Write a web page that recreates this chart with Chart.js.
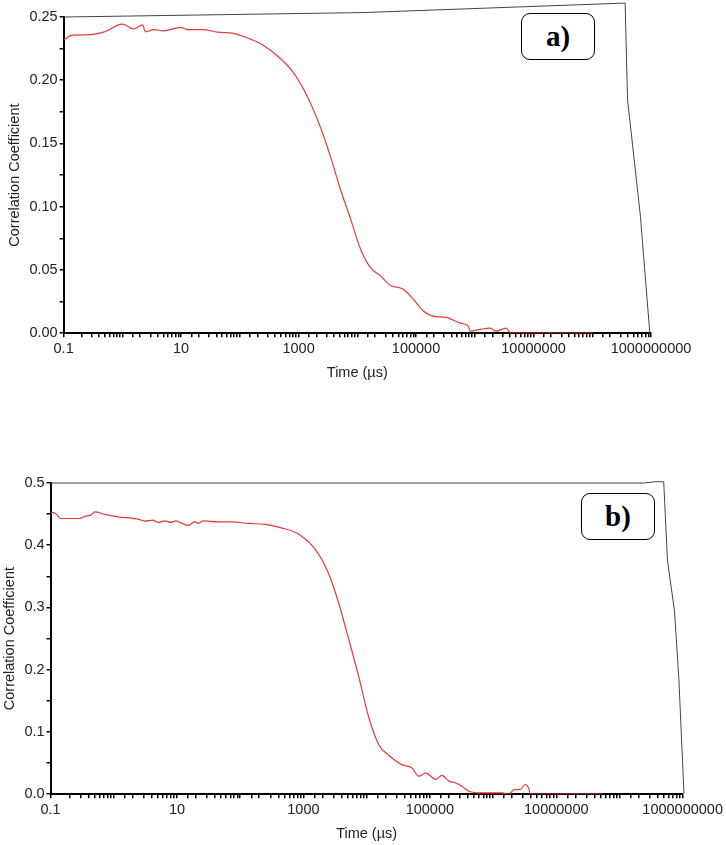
<!DOCTYPE html>
<html>
<head>
<meta charset="utf-8">
<script src="https://cdn.jsdelivr.net/npm/chart.js@4"></script>
<style>
body { margin: 0; background: #fff; width: 726px; height: 845px; position: relative; overflow: hidden; }
.wrap { position: absolute; left: 0; width: 726px; }
#wa { top: 0; height: 388px; }
#wb { top: 468px; height: 377px; }
.tag { position: absolute; width: 74px; height: 47px; box-sizing: border-box; border: 1.5px solid #000; border-radius: 9px;
       background: #fff; font: bold 29px "Liberation Serif", serif; text-align: center; line-height: 44px; color: #000; }
</style>
</head>
<body>
<div class="wrap" id="wa"><canvas id="chartA"></canvas></div>
<div class="wrap" id="wb"><canvas id="chartB"></canvas></div>
<div class="tag" style="left:521px; top:13px;">a)</div>
<div class="tag" style="left:581px; top:493px;">b)</div>
<script>
// panel a) correlation function, time in µs
var timeA = [0.1, 0.142, 0.288, 0.479, 1.0, 1.55, 2.21, 2.48, 3.40, 5.02, 9.8, 12.9, 24, 41.6, 77.8, 151, 224, 490,
             816, 1413, 2350, 3475, 5140, 7600, 11250, 16630, 24600, 36400, 60500, 89500, 132400, 196300, 326600,
             565000, 772700, 835700, 1236000, 1828000, 2312000, 3420000, 4159000, 1.03e8];
var corrA = [0.232, 0.2357, 0.236, 0.238, 0.2444, 0.2405, 0.2437, 0.2383, 0.240, 0.239, 0.2418, 0.240, 0.240, 0.238,
             0.237, 0.2325, 0.229, 0.2172, 0.206, 0.187, 0.163, 0.140, 0.114, 0.091, 0.067, 0.052, 0.0455, 0.038,
             0.0347, 0.027, 0.0175, 0.0135, 0.0125, 0.008, 0.0056, 0.0016, 0.003, 0.004, 0.0016, 0.004, 0, 0];

// panel b)
var timeB = [0.1, 0.12, 0.144, 0.288, 0.36, 0.43, 0.50, 0.72, 1.16, 2.40, 3.10, 4.16, 4.99, 6.45, 8.03, 9.64, 11.6,
             15.0, 19.3, 21.5, 25.9, 44.8, 71.9, 134, 249, 448, 834, 1550, 2494, 3594, 5176, 7464, 10770, 15500,
             22340, 35940, 51760, 66800, 86500, 124500, 155000, 200400, 249500, 322200, 416000, 668000, 1390000,
             1795000, 2154000, 2683000, 3222000, 3727000, 3866000, 53700000];
var corrB = [0.4527, 0.451, 0.443, 0.443, 0.4468, 0.448, 0.4537, 0.4495, 0.4457, 0.442, 0.4387, 0.4403, 0.4366,
             0.4392, 0.4366, 0.4392, 0.436, 0.4317, 0.438, 0.435, 0.4392, 0.4376, 0.4376, 0.435, 0.4334, 0.428,
             0.418, 0.393, 0.355, 0.308, 0.25, 0.19, 0.124, 0.080, 0.0625, 0.0475, 0.0425, 0.029, 0.0338,
             0.0237, 0.0303, 0.021, 0.0183, 0.0129, 0.0048, 0.002, 0.002, 0, 0.0075, 0.0075, 0.0156, 0.0075, 0, 0];

// tick labels
var xLabels = ['0.1', '10', '1000', '100000', '10000000', '1000000000'];
var yLabelsA = ['0.00', '0.05', '0.10', '0.15', '0.20', '0.25'];
var yLabelsB = ['0.0', '0.1', '0.2', '0.3', '0.4', '0.5'];

// the slanted top/right frame of the original plots (fractions of the plot area)
var frameA = [[0, 0], [0.51, -0.014], [0.956, -0.044], [0.960, 0.26], [0.982, 0.63], [0.998, 1]];
var frameB = [[0, 0], [0.938, 0], [0.956, -0.004], [0.970, -0.004], [0.976, 0.25], [0.987, 0.41], [0.994, 0.63], [1.002, 0.997]];

var framePlugin = {
    id: 'frame',
    afterDraw: function(chart, args, opts) {
        var a = chart.chartArea, ctx = chart.ctx;
        ctx.save();
        ctx.strokeStyle = '#444';
        ctx.lineWidth = 1;
        ctx.beginPath();
        opts.points.forEach(function(p, i) {
            var x = a.left + p[0] * (a.right - a.left), y = a.top + p[1] * (a.bottom - a.top);
            if (i === 0) ctx.moveTo(x, y); else ctx.lineTo(x, y);
        });
        ctx.stroke();
        ctx.restore();
    }
};

function pairs(xs, ys) {
    return xs.map(function(x, i) { return { x: x, y: ys[i] }; });
}

var tickFont = { family: 'Liberation Sans', size: 14.5 };

function makeChart(id, xs, ys, yMax, yStep, yLabels, frame, pad) {
    var ctx = document.getElementById(id).getContext('2d');
    return new Chart(ctx, {
        type: 'line',
        data: {
            datasets: [{
                data: pairs(xs, ys),
                borderColor: '#e8383c',
                borderWidth: 1.2,
                pointRadius: 0,
                cubicInterpolationMode: 'monotone'
            }]
        },
        options: {
            responsive: true,
            maintainAspectRatio: false,
            animation: false,
            layout: { padding: pad },
            plugins: {
                legend: { display: false },
                tooltip: { enabled: false },
                frame: { points: frame }
            },
            scales: {
                x: {
                    type: 'logarithmic',
                    min: 0.1,
                    max: 1e9,
                    border: { display: true, color: '#000', width: 2 },
                    grid: { drawOnChartArea: false, color: '#000', lineWidth: 1.5, tickLength: 4 },
                    ticks: {
                        autoSkip: false,
                        maxRotation: 0,
                        color: '#222',
                        padding: 3,
                        font: tickFont,
                        callback: function(v) {
                            for (var i = 0; i < xLabels.length; i++) {
                                if (Math.abs(v / Number(xLabels[i]) - 1) < 1e-6) return xLabels[i];
                            }
                            return '';
                        }
                    },
                    title: { display: true, text: 'Time (µs)', color: '#222', padding: { top: 4, bottom: 0 },
                             font: tickFont }
                },
                y: {
                    min: 0,
                    max: yMax,
                    border: { display: true, color: '#000', width: 2 },
                    grid: { drawOnChartArea: false, color: '#000', lineWidth: 1.5, tickLength: 4 },
                    ticks: {
                        stepSize: yStep,
                        color: '#222',
                        padding: 2,
                        font: tickFont,
                        callback: function(v) {
                            var k = Math.round(v / yStep);
                            return k % 2 === 0 ? yLabels[k / 2] : '';
                        }
                    },
                    title: { display: true, text: 'Correlation Coefficient', color: '#222', padding: { top: 0, bottom: 4 },
                             font: tickFont }
                }
            }
        },
        plugins: [framePlugin]
    });
}

makeChart('chartA', timeA, corrA, 0.25, 0.025, yLabelsA, frameA, { top: 17, left: 6, right: 75, bottom: 6 });
makeChart('chartB', timeB, corrB, 0.5, 0.05, yLabelsB, frameB, { top: 15, left: 1, right: 42, bottom: 2 });
</script>
</body>
</html>
